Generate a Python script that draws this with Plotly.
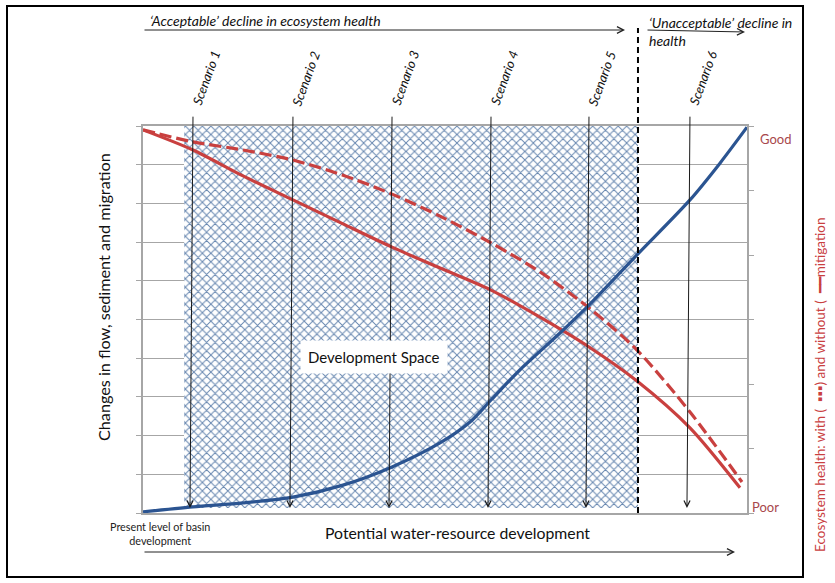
import plotly.graph_objects as go

# ---------------- data ----------------
dev_x = [0, 8.28, 16.56, 24.83, 33.11, 41.23, 49.17, 54.14, 57.62, 62.42, 69.04, 73.84, 81.79, 90.56, 95.53, 100]
change_y = [0.03, 0.16, 0.26, 0.41, 0.72, 1.19, 1.81, 2.35, 2.92, 3.70, 4.65, 5.37, 6.67, 8.09, 9.04, 9.97]

health_x = [0, 8.28, 16.56, 24.83, 33.11, 41.23, 49.17, 57.62, 65.73, 73.84, 81.79, 90.56, 98.84]
health_without = [9.90, 9.38, 8.71, 8.09, 7.47, 6.87, 6.33, 5.76, 5.06, 4.29, 3.41, 2.20, 0.65]

health_with_x = [0, 8.28, 16.56, 24.83, 33.11, 41.23, 49.17, 57.62, 65.73, 73.84, 81.79, 90.56, 99.17]
health_with = [9.90, 9.59, 9.38, 9.12, 8.73, 8.24, 7.67, 6.98, 6.23, 5.30, 4.21, 2.61, 0.80]

scenario_names = ["Scenario 1", "Scenario 2", "Scenario 3", "Scenario 4", "Scenario 5", "Scenario 6"]
scenario_x = [8.28, 24.83, 41.23, 57.62, 73.84, 90.56]

dev_space = [6.8, 81.9]      # x-extent of the development space
acceptable_limit = 81.95     # boundary between acceptable / unacceptable

# ---------------- style ----------------
FONT = "Lato"
RED = "#c9403f"
BLUE = "#2b5491"
GOODPOOR = "#a8474c"
GRID = "#a6a6a6"

W, H = 835, 583
L, T, R, B = 143, 126, 747, 513


def px(xp):
    return (xp - L) / (R - L)


def py(yp):
    return (B - yp) / (B - T)


fig = go.Figure()

# development space (hatched)
fig.add_trace(go.Bar(
    x=[(dev_space[0] + dev_space[1]) / 2], y=[10 - 0.12], base=[0.12],
    width=[dev_space[1] - dev_space[0]],
    marker=dict(color="white", line=dict(width=0),
                pattern=dict(shape="x", size=6, solidity=0.3,
                             fgcolor="#6787b0", bgcolor="white", fillmode="replace")),
    showlegend=False, hoverinfo="skip",
))

fig.add_trace(go.Scatter(x=health_with_x, y=health_with, mode="lines",
                         line=dict(color=RED, width=3.2, dash="12px,5px", shape="spline", smoothing=0.8),
                         showlegend=False))
fig.add_trace(go.Scatter(x=health_x, y=health_without, mode="lines",
                         line=dict(color=RED, width=3.2, shape="spline", smoothing=0.8),
                         showlegend=False))
fig.add_trace(go.Scatter(x=dev_x, y=change_y, mode="lines",
                         line=dict(color=BLUE, width=3.2, shape="spline", smoothing=0.8),
                         showlegend=False))
# invisible trace on secondary axis for right ticks
fig.add_trace(go.Scatter(x=[0], y=[0], yaxis="y2", mode="markers",
                         marker=dict(opacity=0), showlegend=False, hoverinfo="skip"))

annotations = []
shapes = []


def label(xp, yp, text, size, color="#111111", angle=0, style="normal", xanchor="center", align="center", **kw):
    annotations.append(dict(
        x=px(xp), y=py(yp), xref="paper", yref="paper",
        xanchor=xanchor, yanchor="middle", showarrow=False, align=align,
        text=text, textangle=angle,
        font=dict(family=FONT, size=size, color=color, style=style), **kw))


def arrow(x_head, y_head, x_tail, y_tail):
    annotations.append(dict(
        x=px(x_head), y=py(y_head), xref="paper", yref="paper",
        ax=x_tail - x_head, ay=y_tail - y_head, text="", showarrow=True,
        arrowhead=5, arrowsize=1.3, arrowwidth=1, arrowcolor="#222222",
        standoff=0, startstandoff=0))


# scenario arrows and labels
for name, sx in zip(scenario_names, scenario_x):
    annotations.append(dict(
        x=sx - 0.5, y=0.13, xref="x", yref="y",
        ax=sx, ay=10.28, axref="x", ayref="y",
        text="", showarrow=True, arrowhead=5, arrowsize=1.2, arrowwidth=1,
        arrowcolor="#1a1a1a", standoff=0, startstandoff=0,
    ))
    annotations.append(dict(
        x=sx, y=py(78), xref="x", yref="paper", xshift=13,
        xanchor="center", yanchor="middle",
        text=name, showarrow=False, textangle=-70,
        font=dict(family=FONT, size=13, color="#111111", style="italic"),
    ))

# acceptable / unacceptable boundary
shapes.append(dict(type="line", xref="x", yref="paper",
                   x0=acceptable_limit, x1=acceptable_limit, y0=py(513), y1=py(28),
                   line=dict(color="black", width=2, dash="6px,4px")))

# outer frame
shapes.append(dict(type="rect", xref="paper", yref="paper",
                   x0=px(7), x1=px(803), y0=py(577), y1=py(6),
                   line=dict(color="black", width=2)))

# top and bottom arrows
arrow(625, 30, 143, 30)
arrow(745, 32, 646, 30)
arrow(735, 552, 143, 552)

label(148, 21, "\u2018Acceptable\u2019 decline in ecosystem health", 14, style="italic", xanchor="left")
label(647, 31, "\u2018Unacceptable\u2019 decline in<br>health", 14, style="italic", xanchor="left", align="left")

label(160, 533, "Present level of basin<br>development", 10.8, color="#222222")
label(457, 532, "Potential water-resource development", 15.8)

label(103, 297, "Changes in flow, sediment and migration", 16.2, angle=-90)
label(820, 385, "Ecosystem health: with (  \u25aa\u25aa\u25aa) and without (  \u2501\u2501mitigation", 13.5,
      color=RED, angle=-90)

label(775, 139, "Good", 13, color=GOODPOOR)
label(765, 507, "Poor", 13, color=GOODPOOR)

label(374, 357, "Development Space", 15, bgcolor="white", borderpad=7)

fig.update_layout(
    width=W, height=H,
    margin=dict(l=L, r=W - R, t=T, b=H - B, pad=0),
    paper_bgcolor="white", plot_bgcolor="white",
    showlegend=False,
    bargap=0,
    xaxis=dict(range=[0, 100], showgrid=False, zeroline=False, showticklabels=False,
               showline=True, linecolor=GRID, linewidth=1.5, mirror=True, ticks=""),
    yaxis=dict(range=[0, 10], dtick=1, tick0=0, showgrid=True, gridcolor=GRID, gridwidth=1,
               zeroline=False, showticklabels=False, showline=True, linecolor=GRID,
               linewidth=1.5, ticks="outside", ticklen=5, tickcolor=GRID),
    yaxis2=dict(range=[0, 6], dtick=1, tick0=0, overlaying="y", side="right",
                showgrid=False, zeroline=False, showticklabels=False, showline=True,
                linecolor=GRID, linewidth=1.5, ticks="outside", ticklen=5, tickcolor=GRID),
    annotations=annotations,
    shapes=shapes,
)

fig.write_html("out.html", config={"displayModeBar": False},
               post_script="document.body.style.margin='0px';")
